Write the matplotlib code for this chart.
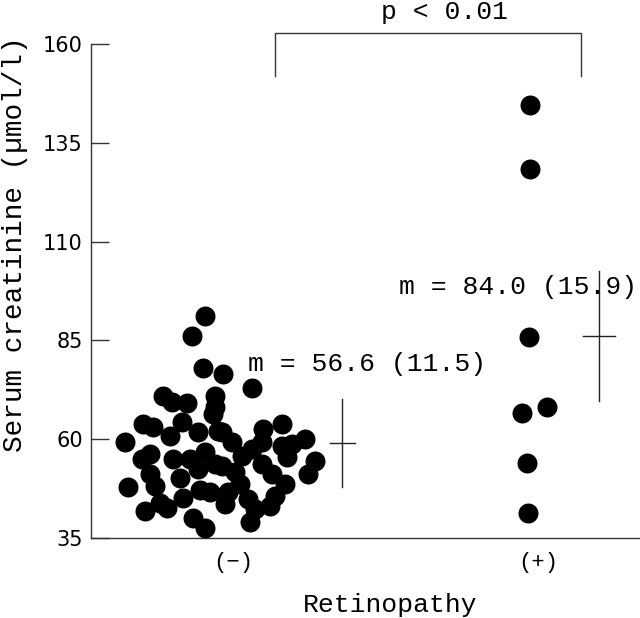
import numpy as np
import matplotlib
matplotlib.use("Agg")
import matplotlib.pyplot as plt

plt.rcParams['font.family'] = ['Liberation Mono', 'DejaVu Sans Mono']

# data
groups = ['(\u2212)', '(+)']
group_pos = [1, 2]

neg_jitter = [-0.092, -0.134, -0.098, -0.033, 0.062, -0.230, -0.200, -0.151,
              -0.059, -0.059, -0.295, -0.262, -0.167, -0.207, -0.115, -0.066,
              -0.049, -0.003, 0.098, 0.161, -0.354, -0.298, -0.272, -0.197,
              -0.141, -0.092, -0.059, -0.272, -0.256, -0.344, -0.174, -0.164,
              -0.239, -0.216, -0.289, -0.131, -0.092, -0.075, 0.236, 0.193,
              0.161, 0.177, 0.269, 0.246, 0.128, 0.170, 0.138, 0.121,
              0.056, 0.062, 0.095, 0.030, 0.007, -0.036, 0.023, -0.016,
              -0.026, 0.049, 0.072, -0.036, -0.115, -0.108, 0.095]
neg_values = [91.1, 86.1, 78.0, 76.4, 72.9, 70.9, 69.4, 69.1,
              70.9, 68.1, 63.8, 63.0, 64.3, 60.8, 61.8, 66.3,
              62.0, 59.2, 62.5, 63.8, 59.2, 54.9, 56.2, 54.9,
              54.9, 56.7, 53.7, 51.1, 48.1, 47.8, 50.1, 45.1,
              43.8, 42.5, 41.8, 40.0, 37.5, 46.6, 60.0, 58.7,
              58.2, 55.4, 54.4, 51.1, 51.1, 48.6, 45.6, 43.1,
              39.0, 57.5, 59.2, 55.7, 51.7, 53.2, 48.6, 46.6,
              43.6, 44.8, 42.3, 61.8, 52.4, 47.2, 53.7]

pos_jitter = [-0.026, -0.026, -0.030, -0.052, 0.030, -0.036, -0.033]
pos_values = [144.6, 128.4, 85.9, 66.6, 68.1, 54.0, 41.3]

# mean +/- SD crosses as drawn
cross_center = [59.0, 86.1]
cross_half = [11.1, 16.4]
mean_labels = ['m = 56.6 (11.5)', 'm = 84.0 (15.9)']

yticks = [35, 60, 85, 110, 135, 160]

fig = plt.figure(figsize=(6.4, 6.18), dpi=100)
ax = fig.add_axes([91/640, 80/618, 549/640, 494/618])

ax.scatter(np.array(neg_jitter) + group_pos[0], neg_values, s=207, c='black',
           linewidths=0, zorder=3)
ax.scatter(np.array(pos_jitter) + group_pos[1], pos_values, s=207, c='black',
           linewidths=0, zorder=3)

# crosses to the right of each group
cross_x = [1.357, 2.2]
arm = [0.041, 0.052]
for cx, cy, h, a in zip(cross_x, cross_center, cross_half, arm):
    ax.plot([cx, cx], [cy - h, cy + h], color='#222222', lw=1)
    ax.plot([cx - a, cx + a], [cy, cy], color='#222222', lw=1)

ax.text(1.049, 79.0, mean_labels[0], fontsize=19, va='center', ha='left')
ax.text(2.326, 98.5, mean_labels[1], fontsize=19, va='center', ha='right')

# significance bracket
ax.plot([1.138, 1.138, 2.141, 2.141], [151.8, 162.7, 162.7, 151.8],
        color='#333333', lw=1, clip_on=False)
ax.text(1.692, 168.0, 'p < 0.01', fontsize=19, ha='center', va='center')

ax.set_xlim(0.534, 2.334)
ax.set_ylim(35, 160)
ax.set_yticks(yticks)
ax.set_xticks(group_pos)
ax.set_xticklabels(groups, fontsize=16)
ax.tick_params(axis='y', direction='in', length=13, width=1, pad=6, color='#333333',
               labelsize=15, labelfontfamily='DejaVu Sans')
ax.tick_params(axis='x', length=0, pad=10)

ax.spines['top'].set_visible(False)
ax.spines['right'].set_visible(False)
for s in ['left', 'bottom']:
    ax.spines[s].set_color('#333333')
    ax.spines[s].set_linewidth(1)

fig.text(303/640, 1 - 605/618, 'Retinopathy', fontsize=19, ha='left', va='center')
fig.text(15/640, 1 - 244/618, 'Serum creatinine (\u00b5mol/l)', fontsize=20,
         rotation=90, ha='center', va='center')

fig.savefig('out.png', dpi=100)
